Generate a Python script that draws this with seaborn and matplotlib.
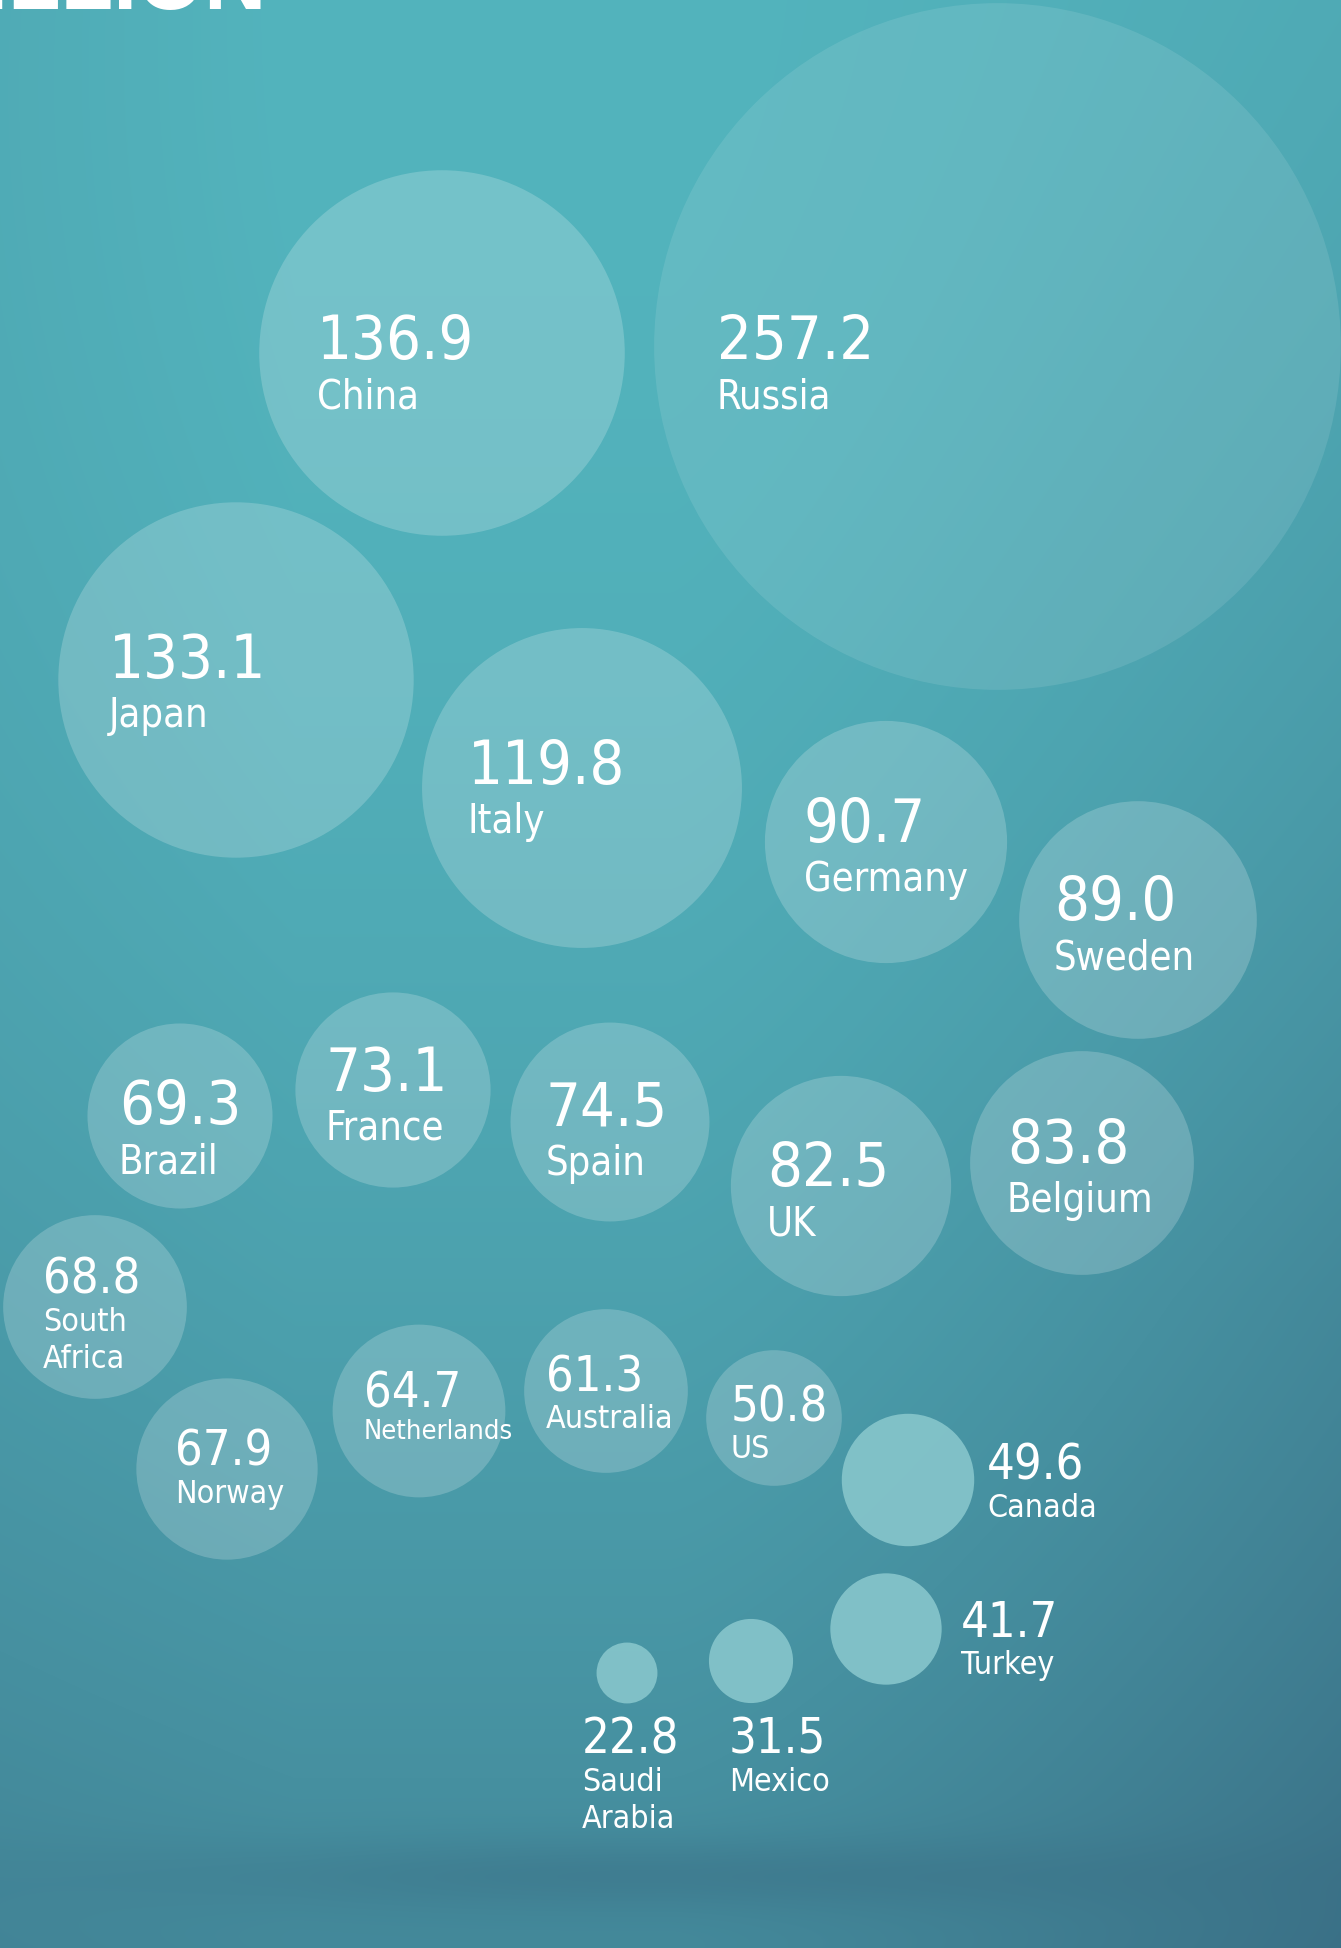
import numpy as np
import pandas as pd
import matplotlib.pyplot as plt
import seaborn as sns
from matplotlib import font_manager

# dane: wartości dla krajów
countries = ["Russia", "China", "Japan", "Italy", "Germany", "Sweden",
             "Brazil", "France", "Spain", "UK", "Belgium",
             "South\nAfrica", "Norway", "Netherlands", "Australia", "US",
             "Canada", "Turkey", "Mexico", "Saudi\nArabia"]
values = [257.2, 136.9, 133.1, 119.8, 90.7, 89.0,
          69.3, 73.1, 74.5, 82.5, 83.8,
          68.8, 67.9, 64.7, 61.3, 50.8,
          49.6, 41.7, 31.5, 22.8]

# układ bąbelków (środek w pikselach) i etykiet (przesunięcie od środka)
bubble_x = [997, 442, 236, 582, 886, 1138, 180, 393, 610, 841, 1082,
            95, 227, 419, 606, 774, 908, 886, 751, 627]
bubble_y = [347, 354, 681, 789, 843, 921, 1117, 1091, 1123, 1187, 1164,
            1308, 1470, 1412, 1392, 1419, 1481, 1630, 1662, 1674]
label_dx = [-280, -125, -127, -114, -82, -84, -61, -67, -64, -74, -75,
            -52, -52, -55, -60, -43, 79, 75, -22, -45]
label_dy = [12, 5, -3, -5, -1, -1, 7, 0, 3, -1, -1,
            -14, -4, -4, -1, 2, -1, 7, 92, 80]
label_group = ["big"] * 11 + ["small", "small", "tiny", "small", "small",
                              "small", "small", "small", "small"]
fill_group = ["faint"] + ["normal"] * 15 + ["solid"] * 4

W, H = 1341, 1949
PX_PER_UNIT = 1.335  # promień w px na jednostkę wartości

df = pd.DataFrame({"country": countries, "value": values,
                   "x": bubble_x, "y": bubble_y, "fill": fill_group})
df["r"] = df["value"] * PX_PER_UNIT
df["s"] = (2 * df["r"] * 72 / 100) ** 2

sns.set_theme(style="white")

# czcionka - wąska, jeśli jest
available = {f.name for f in font_manager.fontManager.ttflist}
stretch = "normal"
if "Liberation Sans Narrow" in available:
    fam = "Liberation Sans Narrow"
else:
    fam = "DejaVu Sans"
    stretch = "condensed"
plt.rcParams["font.family"] = [fam, "DejaVu Sans"]

fig = plt.figure(figsize=(W / 100, H / 100), dpi=100)
ax = fig.add_axes([0, 0, 1, 1])

# tło - gradient
yy, xx = np.mgrid[0:H, 0:W]
xn = xx / W
yn = yy / H
t = 0.6 * yn ** 2.0
t += 0.34 * np.clip((xn - 0.5) / 0.5, 0, 1) ** 1.3 * np.clip(0.4 + 0.9 * yn, 0, 1)
t += 0.12 * np.clip((0.22 - xn) / 0.22, 0, 1) * (1 - 0.5 * yn)
t += 0.2 * np.exp(-((xx - 640) / 480) ** 2 - ((yy - 1875) / 38) ** 2)
t = np.clip(t, 0, 1)[..., None]
c0 = np.array([83, 180, 189]) / 255
c1 = np.array([57, 108, 131]) / 255
bg = c0 + (c1 - c0) * t
ax.imshow(bg, extent=(0, W, H, 0), aspect="auto", zorder=0)

fills = {"faint": ("white", 0.10), "normal": ("white", 0.20),
         "solid": ("#86c5cb", 0.92)}
for grp, (col, a) in fills.items():
    sub = df[df["fill"] == grp]
    sns.scatterplot(data=sub, x="x", y="y", s=sub["s"].values, color=col,
                    alpha=a, linewidth=0, ax=ax, legend=False, zorder=2)

# (rozmiar liczby, rozmiar nazwy, odstęp linii w px)
sizes = {"big": (44, 28.5, 49), "small": (35, 23, 37), "tiny": (35, 19.5, 31)}
for i, row in df.iterrows():
    vs, ns, gap = sizes[label_group[i]]
    lx = row["x"] + label_dx[i]
    ly = row["y"] + label_dy[i]
    ax.text(lx, ly, f"{row['value']:.1f}", color="white", fontsize=vs,
            fontstretch=stretch, ha="left", va="baseline", zorder=3)
    for j, line in enumerate(row["country"].split("\n")):
        ax.text(lx, ly + gap * (j + 1), line, color="white", fontsize=ns,
                fontstretch=stretch, ha="left", va="baseline", zorder=3)

# tytuł ucięty u góry
ax.text(267, 9, "BILLION", color="white", fontsize=62, fontweight="bold",
        family=["Liberation Sans", "DejaVu Sans"], ha="right", va="baseline",
        zorder=3)

ax.set_xlim(0, W)
ax.set_ylim(H, 0)
ax.axis("off")
fig.savefig("out.png", dpi=100)
